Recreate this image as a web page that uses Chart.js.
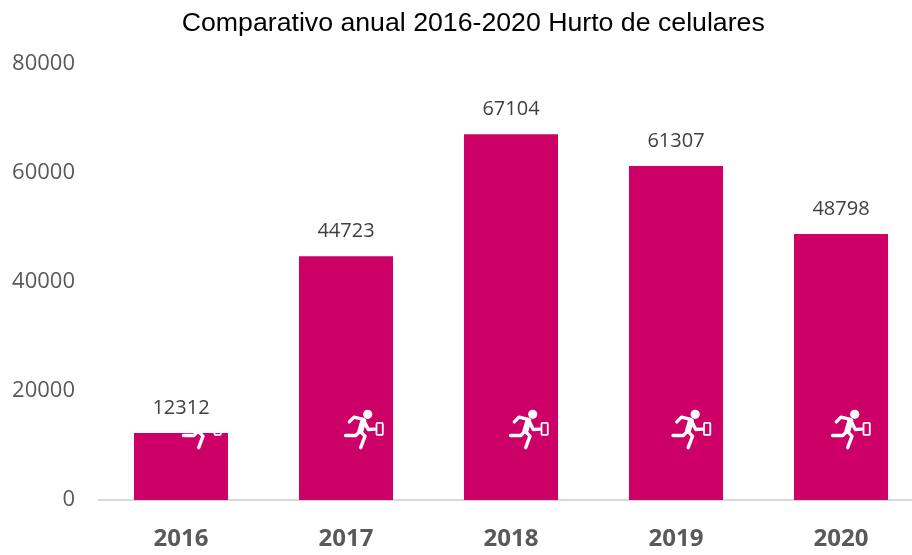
<!DOCTYPE html>
<html>
<head>
<meta charset="utf-8">
<script src="https://cdn.jsdelivr.net/npm/chart.js@4/dist/chart.umd.min.js"></script>
<style>
html, body { margin: 0; padding: 0; background: #fff; width: 912px; height: 555px; overflow: hidden; }
</style>
</head>
<body>
<canvas id="hurtosChart" width="946" height="555"></canvas>
<script>
const categories = ['2016', '2017', '2018', '2019', '2020'];
const hurtos = [12312, 44723, 67104, 61307, 48798];
const yTicks = [0, 20000, 40000, 60000, 80000];
const iconLevel = 13000;

const textFont = '"Open Sans", Lato, sans-serif';

// Little white runner carrying a phone, drawn around its own middle
function drawRunner(ctx, cx, cy) {
    ctx.save();
    ctx.translate(cx, cy);
    ctx.strokeStyle = '#fff';
    ctx.fillStyle = '#fff';
    ctx.lineCap = 'round';
    ctx.lineJoin = 'round';
    // head
    ctx.beginPath();
    ctx.arc(3.7, -14.8, 4.6, 0, Math.PI * 2);
    ctx.fill();
    // torso
    ctx.lineWidth = 6;
    ctx.beginPath();
    ctx.moveTo(-0.7, -8);
    ctx.lineTo(-3.5, 1.5);
    ctx.stroke();
    // arms and legs
    ctx.lineWidth = 3.4;
    ctx.beginPath();
    ctx.moveTo(-14.7, -7.3);
    ctx.lineTo(-10, -12);
    ctx.lineTo(-0.7, -9.7);
    ctx.moveTo(0, -8);
    ctx.lineTo(4.3, 0.3);
    ctx.lineTo(11, 0);
    ctx.moveTo(-4, 2);
    ctx.lineTo(-8, 6.3);
    ctx.lineTo(-18.5, 6.3);
    ctx.moveTo(-4, 2);
    ctx.lineTo(1, 7);
    ctx.lineTo(-3.3, 18.5);
    ctx.stroke();
    // phone
    ctx.lineWidth = 1.8;
    ctx.beginPath();
    ctx.roundRect(12.5, -6.2, 6.3, 12, 1);
    ctx.stroke();
    ctx.restore();
}

const barExtras = {
    id: 'barExtras',
    afterLayout(chart) {
        // title is centred a bit right of the canvas middle
        chart.titleBlock.left = 23;
    },
    afterDatasetsDraw(chart) {
        const ctx = chart.ctx;
        const meta = chart.getDatasetMeta(0);
        const y = chart.scales.y;
        // icons first, the value labels sit on top
        // they are not quite in the same spot on every bar
        const iconShift = [21, 18, 18, 15.5, 10];
        meta.data.forEach((bar, i) => {
            drawRunner(ctx, bar.x + iconShift[i], y.getPixelForValue(iconLevel));
        });
        ctx.save();
        ctx.font = '20px ' + textFont;
        ctx.fillStyle = '#404040';
        ctx.textAlign = 'center';
        ctx.textBaseline = 'middle';
        meta.data.forEach((bar, i) => {
            ctx.fillText(hurtos[i], bar.x, bar.y - 25);
        });
        ctx.restore();
    }
};

new Chart(document.getElementById('hurtosChart').getContext('2d'), {
    type: 'bar',
    data: {
        labels: categories,
        datasets: [{
            label: 'Hurto de celulares',
            data: hurtos,
            backgroundColor: '#CC0066',
            barPercentage: 0.57,
            categoryPercentage: 1
        }]
    },
    plugins: [barExtras],
    options: {
        responsive: false,
        animation: false,
        layout: {
            padding: { left: 0, right: 22.5, top: 0, bottom: 0 }
        },
        plugins: {
            legend: { display: false },
            tooltip: { enabled: false },
            title: {
                display: true,
                text: 'Comparativo anual 2016-2020 Hurto de celulares',
                color: '#000',
                font: { family: '"Liberation Sans", Arial, sans-serif', size: 26.7, weight: 'normal' },
                padding: { top: 8, bottom: 24 }
            }
        },
        scales: {
            x: {
                afterFit(scale) { scale.height = 55; },
                grid: { display: false, drawTicks: false },
                border: { color: '#D9D9D9', width: 2 },
                ticks: {
                    color: '#595959',
                    padding: 24.6,
                    maxRotation: 0,
                    font: { family: textFont, size: 24, weight: 'bold' }
                }
            },
            y: {
                min: 0,
                max: 80000,
                afterFit(scale) { scale.width = 98.5; },
                afterBuildTicks(scale) { scale.ticks = yTicks.map(v => ({ value: v })); },
                grid: { display: false, drawTicks: false },
                border: { display: false },
                ticks: {
                    color: '#595959',
                    padding: 23.5,
                    callback: v => String(v),
                    font: { family: textFont, size: 22 }
                }
            }
        }
    }
});
</script>
</body>
</html>
